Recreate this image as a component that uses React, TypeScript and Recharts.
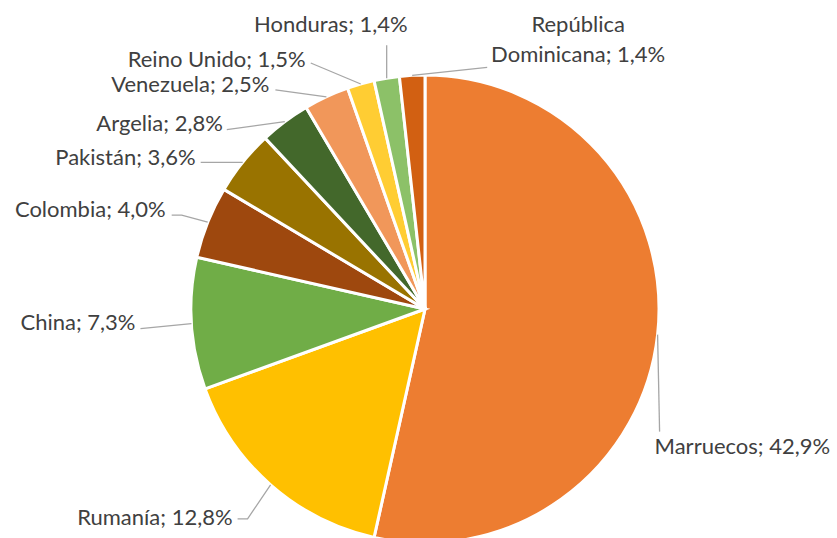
import React from 'react';
import { PieChart, Pie, Cell } from 'recharts';

const countries = ['Marruecos', 'Rumanía', 'China', 'Colombia', 'Pakistán', 'Argelia', 'Venezuela', 'Reino Unido', 'Honduras', 'República Dominicana'];
const shares = [42.9, 12.8, 7.3, 4.0, 3.6, 2.8, 2.5, 1.5, 1.4, 1.4];
const colors = ['#ED7D31', '#FFC000', '#70AD47', '#9E480E', '#997300', '#43682B', '#F1975A', '#FFCD33', '#8CC168', '#D26012'];
const labelLines: string[][] = [
  ['Marruecos; 42,9%'],
  ['Rumanía; 12,8%'],
  ['China; 7,3%'],
  ['Colombia; 4,0%'],
  ['Pakistán; 3,6%'],
  ['Argelia; 2,8%'],
  ['Venezuela; 2,5%'],
  ['Reino Unido; 1,5%'],
  ['Honduras; 1,4%'],
  ['República', 'Dominicana; 1,4%'],
];

// leader-line polyline offsets (relative to the arc point) and text offset (relative to last point)
const labelLayout: { pts: number[][]; text: number[]; anchor: string }[] = [
  { pts: [[2, 97]], text: [-5, 15], anchor: 'start' },
  { pts: [[-23, 34], [-33, 34]], text: [-5, -2], anchor: 'end' },
  { pts: [[-51, 5]], text: [-5, -6], anchor: 'end' },
  { pts: [[-26, -7], [-36, -7]], text: [-6, -6], anchor: 'end' },
  { pts: [[-42, 0]], text: [-5, -5], anchor: 'end' },
  { pts: [[-58, 8]], text: [-4, -6], anchor: 'end' },
  { pts: [[-51, -7]], text: [-6, -5], anchor: 'end' },
  { pts: [[-50, -21]], text: [-5, -4], anchor: 'end' },
  { pts: [[0, -33]], text: [21, -21], anchor: 'end' },
  { pts: [[75, -8]], text: [91, -43], anchor: 'middle' },
];

const data = countries.map((name, i) => ({ name, value: shares[i] }));

const FONT = 'Lato, "Noto Sans", sans-serif';
const RAD = Math.PI / 180;

const renderLabel = (props: any) => {
  const { cx, cy, midAngle, outerRadius, index } = props;
  const ax = cx + outerRadius * Math.cos(-midAngle * RAD);
  const ay = cy + outerRadius * Math.sin(-midAngle * RAD);
  const lay = labelLayout[index];
  const pts = [[ax, ay], ...lay.pts.map(([dx, dy]) => [ax + dx, ay + dy])];
  const last = pts[pts.length - 1];
  const tx = last[0] + lay.text[0];
  const ty = last[1] + lay.text[1];
  const lines = labelLines[index];
  return (
    <g key={`lbl-${index}`}>
      <polyline points={pts.map((p) => p.join(',')).join(' ')} fill="none" stroke="#A6A6A6" strokeWidth={1.3} />
      <text x={tx} y={ty} textAnchor={lay.anchor as any} fill="#404040" fontFamily={FONT} fontSize={22}>
        {lines.map((l, k) => (
          <tspan key={k} x={tx} dy={k === 0 ? '0.35em' : 30}>{l}</tspan>
        ))}
      </text>
    </g>
  );
};

export default function App() {
  return (
    <div style={{ position: 'absolute', left: 0, top: 0, width: 837, height: 538, background: '#fff' }}>
      <PieChart width={837} height={538} margin={{ top: 0, right: 0, bottom: 0, left: 0 }}>
        <Pie
          data={data}
          dataKey="value"
          nameKey="name"
          cx={425}
          cy={309}
          outerRadius={234}
          startAngle={90}
          endAngle={-270}
          stroke="#FFFFFF"
          strokeWidth={3}
          label={renderLabel}
          labelLine={false}
          isAnimationActive={false}
        >
          {data.map((d, i) => (
            <Cell key={d.name} fill={colors[i]} />
          ))}
        </Pie>
      </PieChart>
    </div>
  );
}
